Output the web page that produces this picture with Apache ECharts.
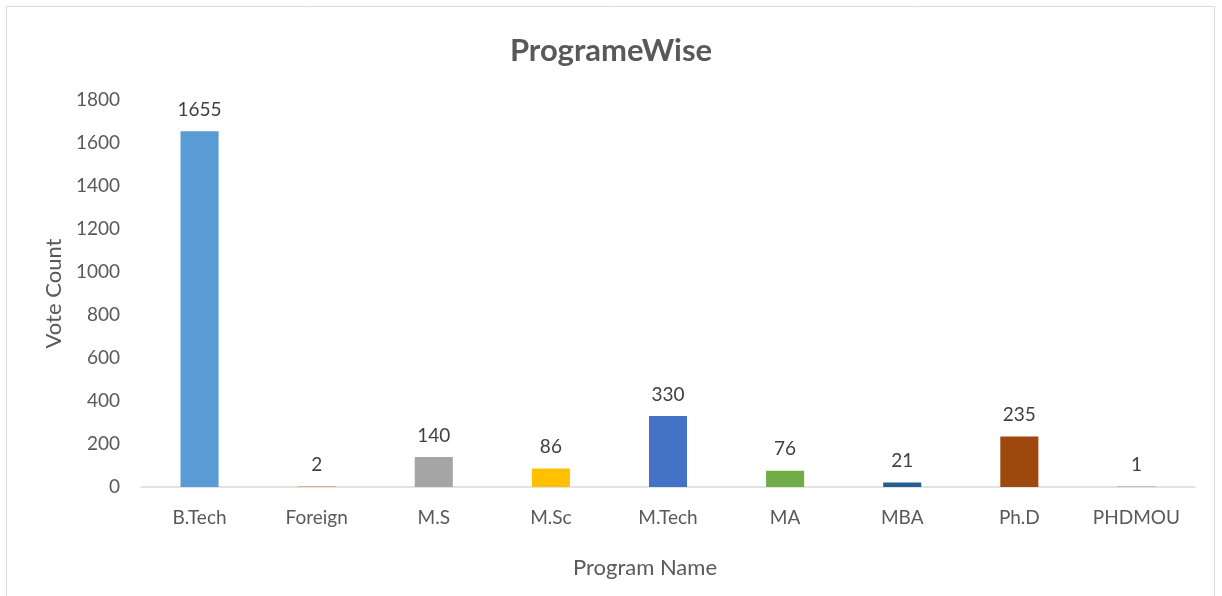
<!DOCTYPE html>
<html>
<head>
<meta charset="utf-8">
<script src="https://cdn.jsdelivr.net/npm/echarts@6/dist/echarts.min.js"></script>
<style>
    html, body { margin: 0; padding: 0; background: #fff; }
    #chart { width: 1222px; height: 596px; }
</style>
</head>
<body>
<div id="chart"></div>
<script>
// 数据
var programs = ['B.Tech', 'Foreign', 'M.S', 'M.Sc', 'M.Tech', 'MA', 'MBA', 'Ph.D', 'PHDMOU'];
var votes = [1655, 2, 140, 86, 330, 76, 21, 235, 1];
var barColors = ['#5B9BD5', '#ED7D31', '#A5A5A5', '#FFC000', '#4472C4', '#70AD47', '#255E91', '#9E480E', '#636363'];

var font = 'Lato, "Open Sans", sans-serif';
var myChart = echarts.init(document.getElementById('chart'));

var option = {
    animation: false,
    textStyle: { fontFamily: font },
    graphic: [{
        type: 'rect',
        shape: { x: 6.5, y: 6.5, width: 1208, height: 620 },
        style: { fill: 'none', stroke: '#D9D9D9', lineWidth: 1 },
        silent: true
    }],
    title: {
        text: 'ProgrameWise',
        left: 'center',
        top: 30,
        textStyle: { fontFamily: font, fontSize: 31, fontWeight: 'bold', color: '#595959' }
    },
    grid: { left: 141, right: 27, top: 100, bottom: 109, containLabel: false },
    xAxis: {
        type: 'category',
        data: programs,
        name: 'Program Name',
        nameLocation: 'middle',
        nameGap: 70,
        nameTextStyle: { fontFamily: font, fontSize: 22, color: '#595959', padding: [0, 46, 0, 0] },
        axisLine: { lineStyle: { color: '#D9D9D9', width: 1.5 } },
        axisTick: { show: false },
        axisLabel: { fontFamily: font, fontSize: 19, color: '#595959', margin: 21, interval: 0 }
    },
    yAxis: {
        type: 'value',
        min: 0,
        max: 1800,
        interval: 200,
        name: 'Vote Count',
        nameLocation: 'middle',
        nameGap: 76,
        nameTextStyle: { fontFamily: font, fontSize: 22, color: '#595959' },
        axisLine: { show: false },
        axisTick: { show: false },
        splitLine: { show: false },
        axisLabel: {
            fontFamily: font, fontSize: 19, color: '#595959', margin: 21,
            formatter: function(v) { return String(v); }
        }
    },
    series: [{
        type: 'bar',
        barWidth: '32.5%',
        data: votes.map(function(v, i) {
            return { value: v, itemStyle: { color: barColors[i] } };
        }),
        label: {
            show: true,
            position: 'top',
            distance: 12,
            fontFamily: font,
            fontSize: 19,
            color: '#404040'
        }
    }]
};
myChart.setOption(option);
</script>
</body>
</html>
